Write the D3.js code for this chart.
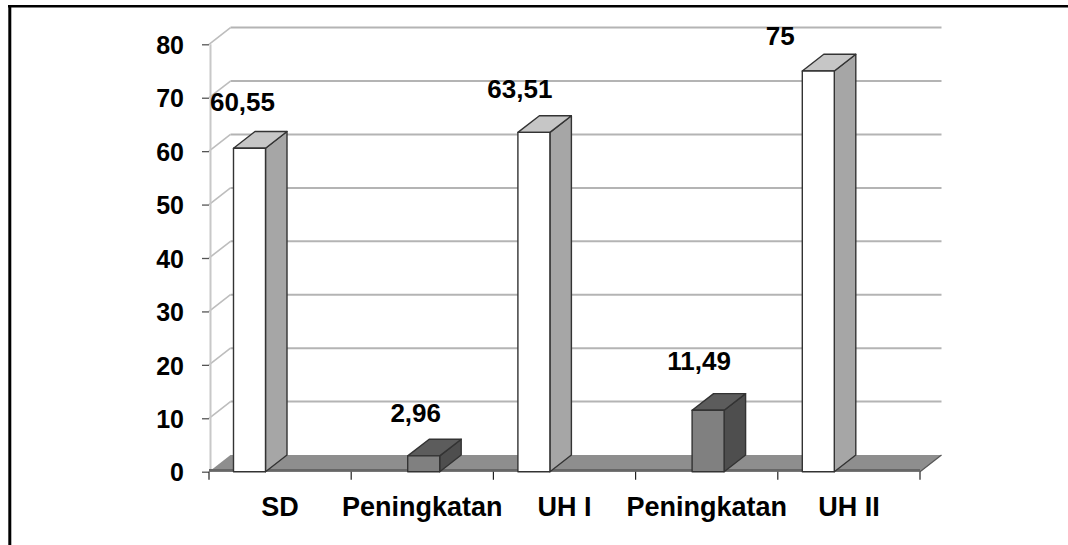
<!DOCTYPE html>
<html>
<head>
<meta charset="utf-8">
<script src="https://cdn.jsdelivr.net/npm/d3@7"></script>
<style>
  html, body { margin: 0; padding: 0; background: #fff; }
  svg { display: block; }
  text { font-family: "Liberation Sans", Arial, sans-serif; font-weight: bold; fill: #000; }
</style>
</head>
<body>
<svg id="chart" width="1068" height="545"></svg>
<script>
// ---- data ----
const categories = ["SD", "Peningkatan", "UH I", "Peningkatan", "UH II"];
const values = [60.55, 2.96, 63.51, 11.49, 75];
const valueLabels = ["60,55", "2,96", "63,51", "11,49", "75"];
const seriesKind = ["score", "gain", "score", "gain", "score"];
const yTicks = [0, 10, 20, 30, 40, 50, 60, 70, 80];

// ---- layout ----
const W = 1068, H = 545;
const plotLeft = 209, plotRight = 920, plotBase = 471.7, plotTop = 44.3;
const depthX = 21.5, depthY = -16.7;
const svg = d3.select("#chart");

const x = d3.scaleBand().domain(d3.range(categories.length)).range([plotLeft, plotRight]).padding(0);
const xInner = d3.scaleBand().domain(["score", "gain"]).range([24.5, 88.5]).padding(0);
const y = d3.scaleLinear().domain([0, 80]).range([plotBase, plotTop]);

const faceColors = {
  score: { front: "#ffffff", side: "#a6a6a6", top: "#c6c6c6" },
  gain:  { front: "#808080", side: "#4e4e4e", top: "#5c5c5c" }
};

// border
svg.append("line").attr("x1", 8).attr("x2", W).attr("y1", 6.2).attr("y2", 6.2)
  .attr("stroke", "#000").attr("stroke-width", 2.6);
svg.append("line").attr("x1", 9.8).attr("x2", 9.8).attr("y1", 5).attr("y2", H)
  .attr("stroke", "#000").attr("stroke-width", 3);

// back-wall gridlines
const gBack = svg.append("g");
yTicks.filter(t => t > 0).forEach(t => {
  gBack.append("line")
    .attr("x1", plotLeft + depthX).attr("x2", plotRight + depthX)
    .attr("y1", y(t) + depthY).attr("y2", y(t) + depthY)
    .attr("stroke", "#b4b4b4").attr("stroke-width", 2);
  gBack.append("line")
    .attr("x1", plotLeft).attr("x2", plotLeft + depthX)
    .attr("y1", y(t)).attr("y2", y(t) + depthY)
    .attr("stroke", "#bdbdbd").attr("stroke-width", 1.6);
});
gBack.append("line").attr("x1", plotLeft + 1.5).attr("x2", plotLeft + 1.5)
  .attr("y1", y(80)).attr("y2", plotBase)
  .attr("stroke", "#c8c8c8").attr("stroke-width", 2);

// floor
svg.append("polygon")
  .attr("points", [[plotLeft, plotBase], [plotRight, plotBase], [plotRight + depthX, plotBase + depthY], [plotLeft + depthX, plotBase + depthY]].join(" "))
  .attr("fill", "#8e8e8e");
svg.append("line").attr("x1", plotLeft).attr("x2", plotRight).attr("y1", plotBase - 1.3).attr("y2", plotBase - 1.3)
  .attr("stroke", "#666").attr("stroke-width", 2.6);
svg.append("line").attr("x1", plotRight).attr("x2", plotRight + depthX).attr("y1", plotBase).attr("y2", plotBase + depthY)
  .attr("stroke", "#555").attr("stroke-width", 1.2);

// y axis
const yAxis = d3.axisLeft(y).tickValues(yTicks).tickSize(7).tickPadding(18).tickFormat(d3.format("d"));
const gy = svg.append("g").attr("transform", `translate(${plotLeft},0)`).call(yAxis);
gy.select(".domain").remove();
gy.selectAll(".tick line").attr("stroke", "#555").attr("stroke-width", 1.3);
gy.selectAll(".tick text").attr("font-size", 25).attr("fill", "#000").attr("dy", "0.37em")
  .attr("font-family", "Liberation Sans, Arial, sans-serif").attr("font-weight", "bold");

// x axis: boundary ticks + centered labels
const boundaries = d3.range(categories.length + 1).map(i => plotLeft + i * x.step());
svg.append("g").selectAll("line").data(boundaries).join("line")
  .attr("x1", d => d).attr("x2", d => d).attr("y1", plotBase).attr("y2", plotBase + 8)
  .attr("stroke", "#222").attr("stroke-width", 1.2);
const xAxis = d3.axisBottom(x).tickSize(0).tickPadding(0).tickFormat(i => categories[i]);
const gx = svg.append("g").attr("transform", `translate(0,${plotBase})`).call(xAxis);
gx.select(".domain").remove();
gx.selectAll(".tick text").attr("font-size", 27).attr("fill", "#000").attr("y", 44).attr("dy", 0)
  .attr("font-family", "Liberation Sans, Arial, sans-serif").attr("font-weight", "bold");

// bars
const bars = svg.append("g");
values.forEach((v, i) => {
  const kind = seriesKind[i];
  const c = faceColors[kind];
  const x0 = x(i) + xInner(kind);
  const w = xInner.bandwidth();
  const yt = y(v);
  const g = bars.append("g").attr("stroke", "#333").attr("stroke-width", 1.4).attr("stroke-linejoin", "round");
  g.append("polygon").attr("points", [[x0 + w, plotBase], [x0 + w + depthX, plotBase + depthY], [x0 + w + depthX, yt + depthY], [x0 + w, yt]].join(" "))
    .attr("fill", c.side);
  g.append("polygon").attr("points", [[x0, yt], [x0 + w, yt], [x0 + w + depthX, yt + depthY], [x0 + depthX, yt + depthY]].join(" "))
    .attr("fill", c.top);
  g.append("rect").attr("x", x0).attr("y", yt).attr("width", w).attr("height", plotBase - yt)
    .attr("fill", c.front);
});

// value labels (layout nudges reproduce the reference's placement)
const labelNudge = [[-7, -37], [-8, -34], [-14, -34], [-9, -40], [-38, -26]];
svg.append("g").selectAll("text").data(values).join("text")
  .attr("x", (v, i) => x(i) + xInner(seriesKind[i]) + xInner.bandwidth() / 2 + labelNudge[i][0])
  .attr("y", (v, i) => y(v) + labelNudge[i][1])
  .attr("text-anchor", "middle").attr("font-size", 26)
  .text((v, i) => valueLabels[i]);
</script>
</body>
</html>
